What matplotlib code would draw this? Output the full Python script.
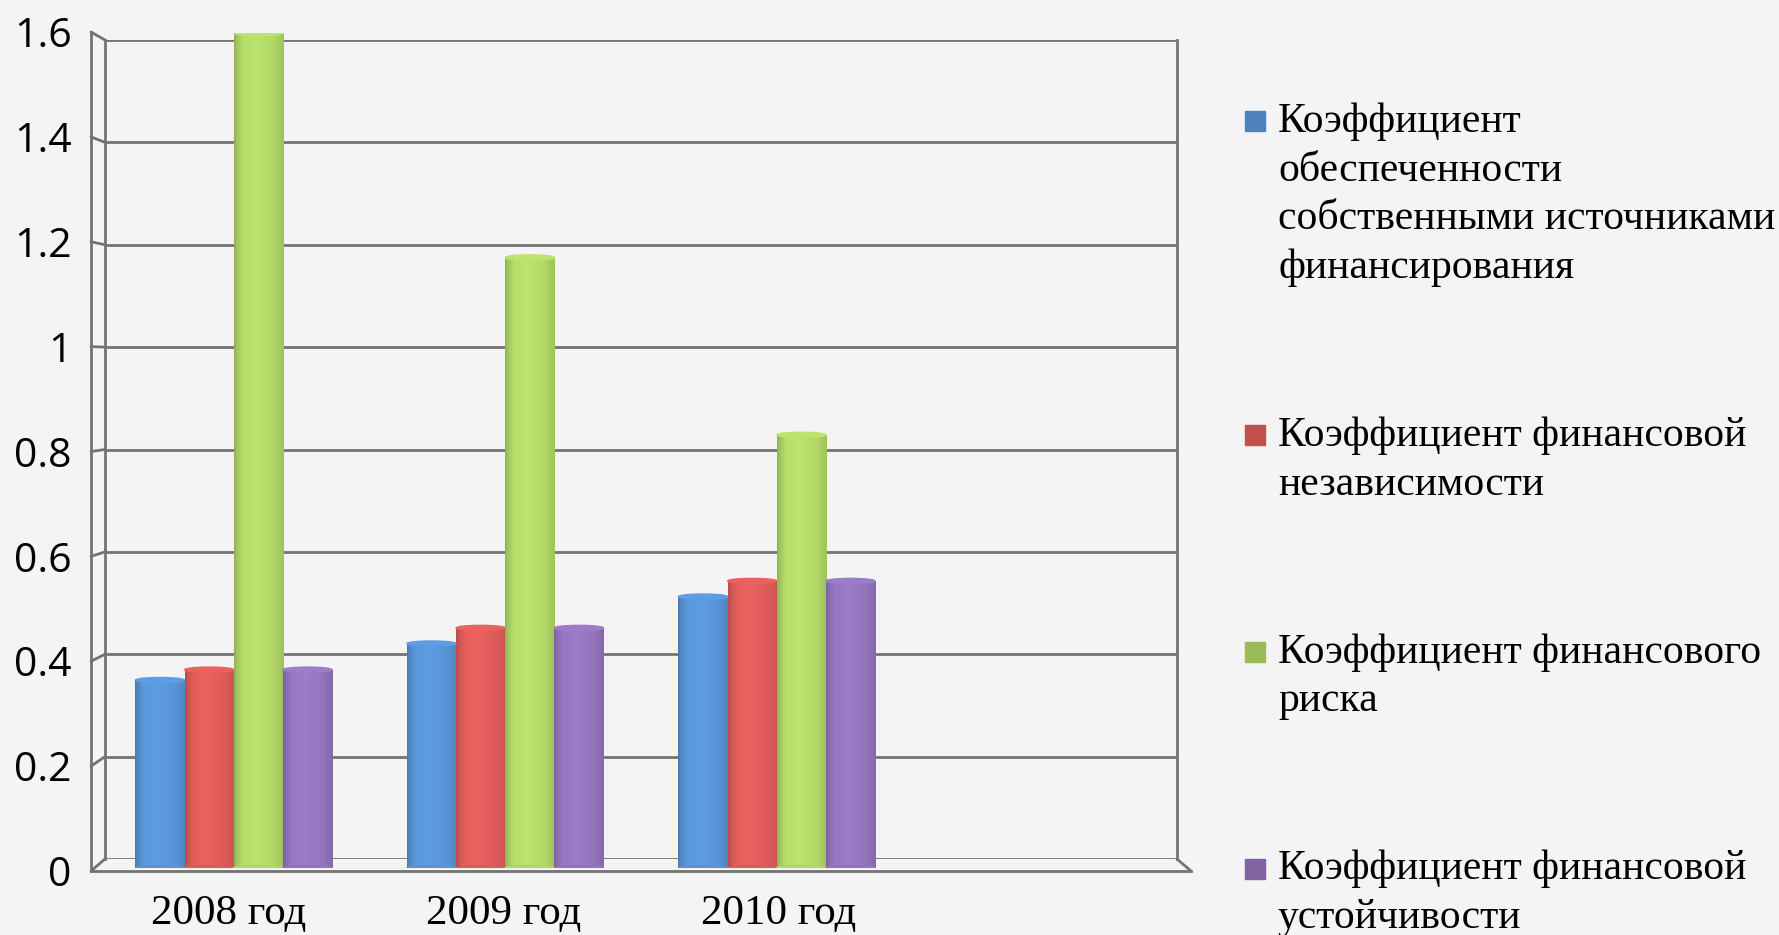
import numpy as np
import matplotlib
matplotlib.use('Agg')
import matplotlib.pyplot as plt
from matplotlib.patches import Rectangle, Ellipse, ConnectionPatch
from matplotlib.colors import to_rgb

# данные
categories = ['2008 год', '2009 год', '2010 год']
series_names = [
    'Коэффициент\nобеспеченности\nсобственными источниками\nфинансирования',
    'Коэффициент финансовой\nнезависимости',
    'Коэффициент финансового\nриска',
    'Коэффициент финансовой\nустойчивости',
]
k_obesp = [0.36, 0.43, 0.52]
k_nezav = [0.38, 0.46, 0.55]
k_risk = [1.60, 1.17, 0.83]
k_ustoy = [0.38, 0.46, 0.55]
y_ticks = [0, 0.2, 0.4, 0.6, 0.8, 1.0, 1.2, 1.4, 1.6]

series = [k_obesp, k_nezav, k_risk, k_ustoy]
bar_colors = ['#5B98DC', '#E35F5C', '#B7DD6A', '#9878C2']
legend_colors = ['#4F81BD', '#C0504D', '#9BBB59', '#8064A2']

W, H = 1779, 935
bg = '#f4f4f4'
grid_c = '#737373'
lw = 2.0
sans = ['Open Sans', 'DejaVu Sans']
serif = ['Liberation Serif', 'DejaVu Serif']


def box(left, top, right, bottom):
    return [left / W, 1 - bottom / H, (right - left) / W, (bottom - top) / H]


fig = plt.figure(figsize=(W / 100, H / 100), dpi=100, facecolor=bg)

n_slots = len(categories) + 1  # пустая четвертая позиция, как в Excel
xlim = (-0.5, n_slots - 0.5)
ylim = (0, 1.6)

# задняя стенка
ax_back = fig.add_axes(box(105, 40, 1177, 859))
ax_back.set_facecolor('none')
ax_back.set_xlim(*xlim)
ax_back.set_ylim(*ylim)
for v in y_ticks:
    ax_back.axhline(v, color=grid_c, lw=lw, zorder=1)
for s in ['top', 'bottom']:
    ax_back.spines[s].set_visible(False)
for s in ['left', 'right']:
    ax_back.spines[s].set_color(grid_c)
    ax_back.spines[s].set_linewidth(lw)
ax_back.set_xticks([])
ax_back.set_yticks([])

# плоскость столбиков
ax_mid = fig.add_axes(box(98, 33, 1184, 868))
ax_mid.set_facecolor('none')
ax_mid.axis('off')

bw = 0.181
x = np.arange(len(categories))
prof_t = [0.0, 0.06, 0.18, 0.45, 0.8, 1.0]
prof_v = [0.80, 0.90, 1.00, 1.03, 0.97, 0.88]
t = np.linspace(0, 1, 64)
shade = np.interp(t, prof_t, prof_v)

for i, (vals, col) in enumerate(zip(series, bar_colors)):
    rgb = np.array(to_rgb(col))
    bars = ax_mid.bar(x + (i - 1.5) * bw, vals, bw, color=col, zorder=2)
    img = np.clip(shade[:, None] * rgb[None, :], 0, 1)[None, :, :]
    for b in bars:
        x0, w, h = b.get_x(), b.get_width(), b.get_height()
        im = ax_mid.imshow(img, extent=[x0, x0 + w, 0, h], aspect='auto',
                           interpolation='bilinear', zorder=3)
        im.set_clip_path(b)
        ax_mid.add_patch(Ellipse((x0 + w / 2, h), w, 0.01,
                                 color=np.clip(rgb * 1.03, 0, 1), zorder=4))
        ax_mid.add_patch(Ellipse((x0 + w / 2, 0), w, 0.01,
                                 color=np.clip(rgb * 0.97, 0, 1), zorder=4))
ax_mid.set_xlim(*xlim)
ax_mid.set_ylim(*ylim)

# передняя плоскость с осями
ax_front = fig.add_axes(box(91, 32, 1191, 871))
ax_front.set_facecolor('none')
ax_front.set_xlim(*xlim)
ax_front.set_ylim(*ylim)
ax_front.spines['top'].set_visible(False)
ax_front.spines['right'].set_visible(False)
for s in ['left', 'bottom']:
    ax_front.spines[s].set_color(grid_c)
    ax_front.spines[s].set_linewidth(lw)
ax_front.set_yticks(y_ticks)
ax_front.set_yticklabels([f'{v:g}' for v in y_ticks], fontfamily=sans,
                         fontsize=29.5)
ax_front.set_xticks(x)
ax_front.set_xticklabels(categories, fontfamily=serif, fontsize=31)
ax_front.tick_params(axis='y', length=0, pad=14)
ax_front.tick_params(axis='x', length=0, pad=17)

# диагональные ребра
for v in y_ticks:
    con = ConnectionPatch(xyA=(xlim[0], v), coordsA=ax_front.transData,
                          xyB=(xlim[0], v), coordsB=ax_back.transData,
                          color=grid_c, lw=lw)
    fig.add_artist(con)
con = ConnectionPatch(xyA=(xlim[1], 0), coordsA=ax_front.transData,
                      xyB=(xlim[1], 0), coordsB=ax_back.transData,
                      color=grid_c, lw=lw)
fig.add_artist(con)

# легенда
line_h = 48.7
gap = 168
y = 121
for name, col in zip(series_names, legend_colors):
    lines = name.split('\n')
    fig.add_artist(Rectangle((1245 / W, 1 - (y + 10) / H), 20 / W, 20 / H,
                             transform=fig.transFigure, color=col))
    for j, ln in enumerate(lines):
        fig.text(1278 / W, 1 - (y + j * line_h + 11) / H, ln,
                 fontfamily=serif, fontsize=30, va='baseline', ha='left')
    y += (len(lines) - 1) * line_h + gap

plt.savefig('out.png', dpi=100, facecolor=fig.get_facecolor())
